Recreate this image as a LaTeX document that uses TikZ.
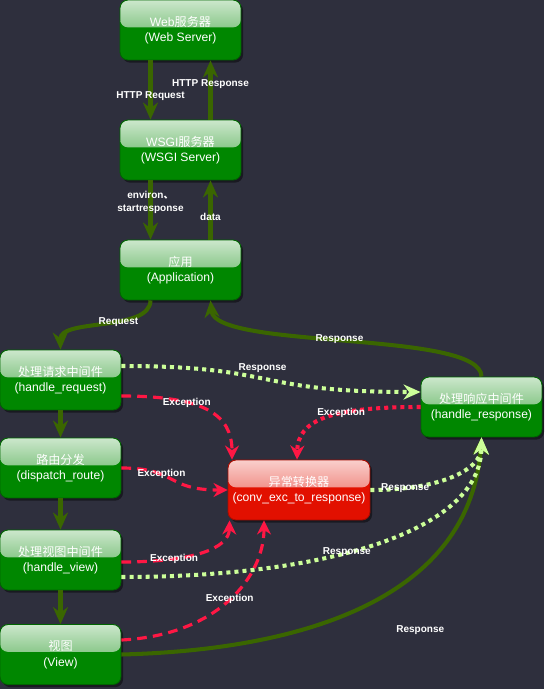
\documentclass[tikz,border=0pt]{standalone}
\usepackage{fontspec}
\setmainfont{Liberation Sans}
\newfontfamily\cjk{Noto Sans CJK SC}
\usetikzlibrary{arrows.meta, shadows}
\definecolor{bgdark}{RGB}{46,47,61}
\definecolor{boxgreen}{RGB}{0,135,0}
\definecolor{boxred}{RGB}{226,16,0}
\definecolor{flowgreen}{RGB}{58,102,0}
\definecolor{dotgreen}{RGB}{204,255,153}
\definecolor{excred}{RGB}{255,23,68}
\tikzset{>={Stealth[length=0.34cm, width=0.3cm]}}

\begin{document}
\begin{tikzpicture}[x=0.02cm, y=-0.02cm,
    box/.style={draw=#1!75!black, line width=0.5pt, fill=#1,
      rounded corners=0.16cm, minimum width=2.42cm, minimum height=1.2cm,
      inner sep=0pt, text=white, align=center,
      font=\fontsize{6.9}{8.8}\selectfont,
      drop shadow={shadow xshift=1.2pt, shadow yshift=-1.5pt, fill=black, opacity=0.45},
      path picture={\shade[top color=#1!20!white, bottom color=#1!75!white]
        (path picture bounding box.north west) rectangle
        ([yshift=1.5pt]path picture bounding box.east);}},
    box/.default=boxgreen,
    lbl/.style={text=white, font=\bfseries\fontsize{5.7}{7.4}\selectfont, inner sep=0pt, align=center},
    flow/.style={draw=flowgreen, line width=2.3pt, ->},
    resp/.style={draw=dotgreen, line width=2.3pt, dash pattern=on 2.3pt off 2.3pt, ->},
    exc/.style={draw=excred, line width=1.8pt, dash pattern=on 5.5pt off 3.5pt, -{Stealth[length=0.28cm, width=0.28cm]}},
    excdot/.style={draw=excred, line width=2.3pt, dash pattern=on 2.3pt off 2.3pt, -{Stealth[length=0.28cm, width=0.28cm]}}]
    \useasboundingbox (0,0) rectangle (544,689);
    \fill[bgdark] (0,0) rectangle (544,689);

    % server side
    \node[box] (web) at (180.5,30) {Web{\cjk 服务器}\\(Web Server)};
    \node[box] (wsgi) at (180.5,150) {WSGI{\cjk 服务器}\\(WSGI Server)};
    \node[box] (app) at (180.5,270) {{\cjk 应用}\\(Application)};

    % middleware chain
    \node[box] (hreq) at (60.5,380) {{\cjk 处理请求中间件}\\(handle\_request)};
    \node[box] (route) at (60.5,468) {{\cjk 路由分发}\\(dispatch\_route)};
    \node[box] (hview) at (60.5,560) {{\cjk 处理视图中间件}\\(handle\_view)};
    \node[box] (view) at (60.5,654.5) {{\cjk 视图}\\(View)};
    \node[box=boxred, minimum width=2.84cm] (conv) at (299,490) {{\cjk 异常转换器}\\(conv\_exc\_to\_response)};
    \node[box] (hresp) at (481.5,407) {{\cjk 处理响应中间件}\\(handle\_response)};

    \draw[flow] ([xshift=-0.6cm]web.south) -- ([xshift=-0.6cm]wsgi.north) node[lbl, pos=0.6]{HTTP Request};
    \draw[flow] ([xshift=0.6cm]wsgi.north) -- ([xshift=0.6cm]web.south) node[lbl, pos=0.6]{HTTP Response};
    \draw[flow] ([xshift=-0.6cm]wsgi.south) -- ([xshift=-0.6cm]app.north) node[lbl, pos=0.38]{environ{\cjk 、}\\startresponse};
    \draw[flow] ([xshift=0.6cm]app.north) -- ([xshift=0.6cm]wsgi.south) node[lbl, pos=0.38]{data};

    \draw[flow] ([xshift=-0.6cm]app.south) .. controls (150,332) and (60,318) .. (hreq.north) node[lbl, pos=0.4]{Request};
    \draw[flow] (hresp.north) .. controls (481,330) and (215,350) .. ([xshift=0.6cm]app.south) node[lbl, pos=0.52]{Response};
    \draw[flow] (hreq) -- (route);
    \draw[flow] (route) -- (hview);
    \draw[flow] (hview) -- (view);
    \draw[flow] (view.east) .. controls (300,650) and (470,600) .. (hresp.south) node[lbl, pos=0.6, xshift=0.38cm, yshift=-0.95cm]{Response};

    % exceptions
    \draw[exc] ([yshift=-0.32cm]hreq.east) .. controls (205,396) and (232,415) .. ([xshift=-1.34cm]conv.north) node[lbl, pos=0.33]{Exception};
    \draw[exc] (route.east) .. controls (178,468) and (165,490) .. (conv.west) node[lbl, pos=0.35]{Exception};
    \draw[exc] ([yshift=-0.04cm]hview.east) .. controls (195,562) and (229,548) .. ([xshift=0.04cm]conv.south west) node[lbl, pos=0.28]{Exception};
    \draw[exc] ([yshift=0.29cm]view.east) .. controls (220,635) and (264,575) .. ([xshift=-0.7cm]conv.south) node[lbl, pos=0.5]{Exception};
    \draw[excdot] (hresp.west) .. controls (330,407) and (298,420) .. ([xshift=-0.04cm]conv.north) node[lbl, pos=0.38]{Exception};

    % responses
    \draw[resp] ([yshift=0.28cm]hreq.east) .. controls (280,366) and (250,392) .. ([yshift=0.3cm]hresp.west) node[lbl, pos=0.48, above=2pt]{Response};
    \draw[resp] (conv.east) .. controls (440,490) and (481,470) .. (hresp.south) node[lbl, pos=0.18]{Response};
    \draw[resp] ([yshift=-0.34cm]hview.east) .. controls (330,577) and (481,530) .. (hresp.south) node[lbl, pos=0.42]{Response};
\end{tikzpicture}
\end{document}
